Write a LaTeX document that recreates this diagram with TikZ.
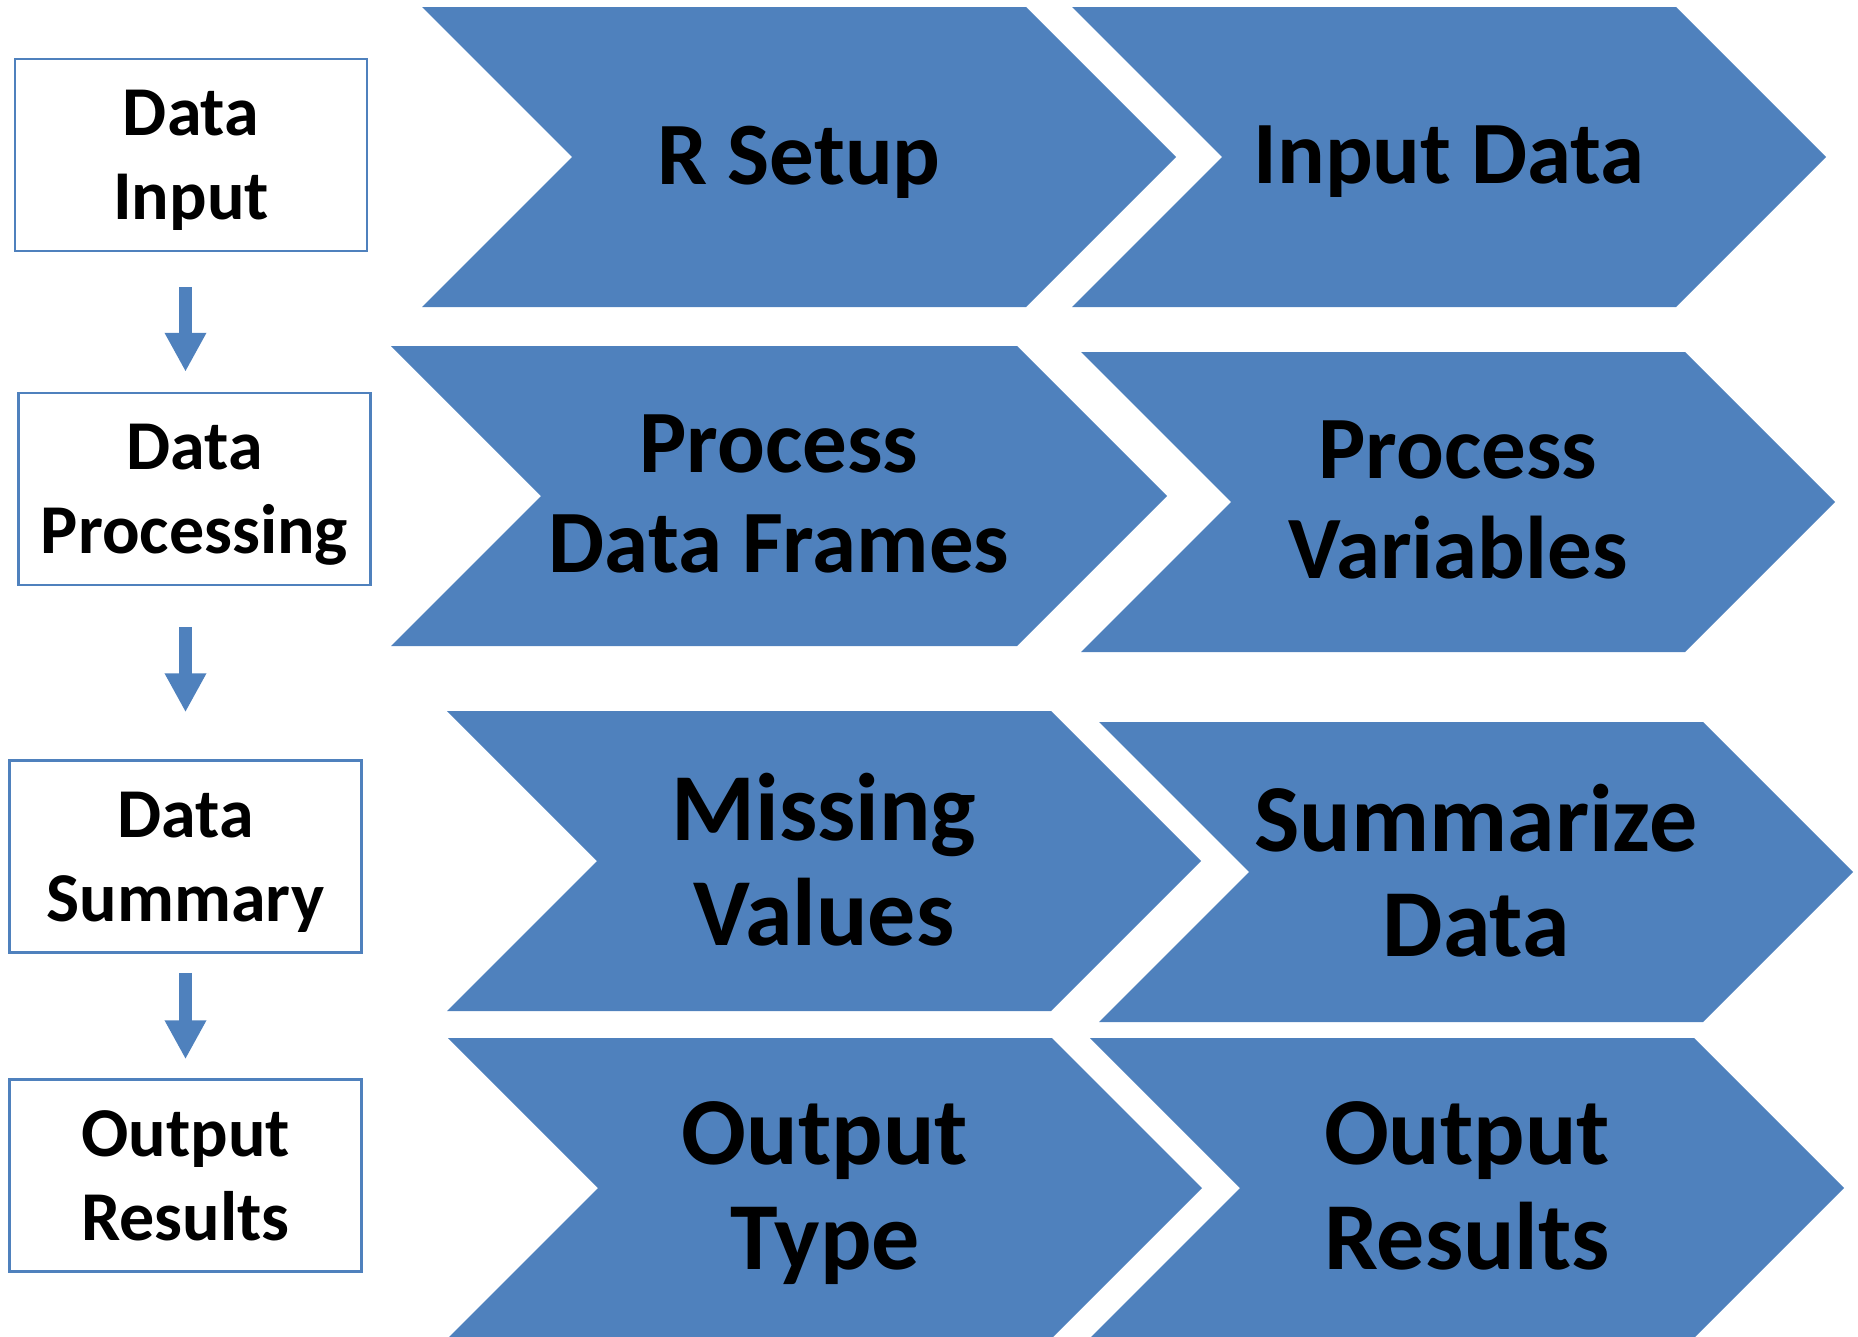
\documentclass[tikz,border=0pt]{standalone}
\usepackage{fontspec}
\setmainfont{Carlito}
\usetikzlibrary{arrows.meta,calc}

\definecolor{stageblue}{HTML}{4F81BD}

\tikzset{
  stagebox/.style={draw=stageblue, line width=2.5pt, fill=white,
    minimum width=352pt, minimum height=192pt, inner sep=0pt,
    text depth=0pt, align=center,
    font=\bfseries\fontsize{70}{84}\selectfont},
  chevtext/.style={align=center, inner sep=0pt, text depth=0pt, yshift=2pt,
    font=\bfseries\fontsize{89}{100}\selectfont},
  chevtextbig/.style={chevtext, font=\bfseries\fontsize{96}{105}\selectfont},
  chevfill/.style={fill=stageblue},
  flowarrow/.style={draw=stageblue, line width=13pt,
    -{Triangle[width=39pt,length=39pt]}},
}

% chevron: [#1 body length], #2 node name, #3 left x, #4 top y,
% #5 text style, #6 label
\newcommand\chevronstep[6][604]{%
  \fill[chevfill] (#3,#4) -- ++(#1,0) -- ++(150,150) -- ++(-150,150)
    -- ++(-#1,0) -- ++(150,-150) -- cycle;
  \node[#5] (#2) at ({#3+(#1+150)/2},#4+150) {#6};
}

\begin{document}
\begin{tikzpicture}[x=1pt,y=-1pt]
\useasboundingbox (0,0) rectangle (1858,1336);
\begin{scope}
\clip (0,0) rectangle (1858,1336);

% stage boxes on the left
\node[stagebox] (b1) at (191,155) {Data\\Input};
\node[stagebox] (b2) at (194.5,489) {Data\\Processing};
\node[stagebox] (b3) at (185.5,856.5) {Data\\Summary};
\node[stagebox] (b4) at (185.5,1175.5) {Output\\Results};

% arrows between the stages
\coordinate (ax) at (185.5,0);
\draw[flowarrow, shorten <=35pt, shorten >=20pt] (b1.south -| ax) -- (b2.north -| ax);
\draw[flowarrow, shorten <=41pt, shorten >=47pt] (b2.south -| ax) -- (b3.north -| ax);
\draw[flowarrow, shorten <=19pt, shorten >=19pt] (b3.south -| ax) -- (b4.north -| ax);

% process steps
\chevronstep{setup}{422}{7}{chevtext}{R Setup}
\chevronstep{input}{1072}{7}{chevtext}{Input Data}
\chevronstep[626]{frames}{391}{346}{chevtext}{Process\\Data Frames}
\chevronstep{vars}{1081}{352}{chevtext}{Process\\Variables}
\chevronstep{missing}{447}{711}{chevtextbig}{Missing\\Values}
\chevronstep{summ}{1099}{722}{chevtextbig}{Summarize\\Data}
\chevronstep{otype}{448}{1038}{chevtextbig}{Output\\Type}
\chevronstep{ores}{1090}{1038}{chevtextbig}{Output\\Results}
\end{scope}
\end{tikzpicture}
\end{document}
